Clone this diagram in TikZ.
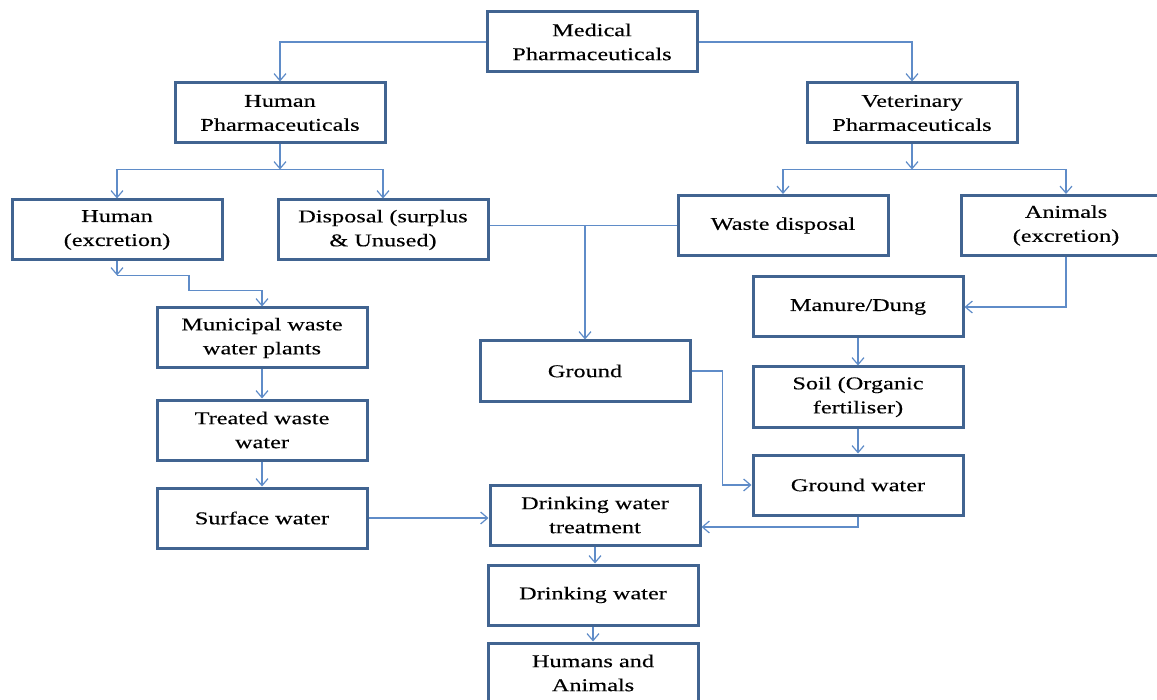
\documentclass[tikz,border=0pt]{standalone}
\usepackage{fontspec}
\setmainfont{Liberation Serif}[FakeStretch=1.35,FakeBold=0.3]
\usetikzlibrary{arrows.meta}
\definecolor{boxline}{RGB}{65,100,145}
\definecolor{arrline}{RGB}{95,140,200}

\begin{document}
\begin{tikzpicture}[x=0.5pt, y=-0.5pt,
  box/.style={draw=boxline, line width=1.5pt, minimum width=105pt, minimum height=30pt,
    inner sep=1pt, align=center, font=\fontsize{9}{12}\selectfont},
  arr/.style={draw=arrline, line width=0.6pt, -{Straight Barb[length=3.5pt,width=6pt]}},
  ln/.style={draw=arrline, line width=0.6pt}]
\useasboundingbox (0,0) rectangle (1157,700);
\clip (0,0) rectangle (1157,700);
\node[box] (med) at (592,42) {Medical\\Pharmaceuticals};
\node[box] (hp) at (280,113) {Human\\Pharmaceuticals};
\node[box] (vp) at (912,113) {Veterinary\\Pharmaceuticals};
\node[box] (hx) at (117,230) {Human\\(excretion)};
\node[box] (dis) at (383,230) {Disposal (surplus\\\& Unused)};
\node[box] (wd) at (783,225.5) {Waste disposal};
\node[box] (ax) at (1066,225.5) {Animals\\(excretion)};
\node[box] (mun) at (262,338) {Municipal waste\\water plants};
\node[box] (gr) at (585,371) {Ground};
\node[box] (man) at (858,307) {Manure/Dung};
\node[box] (soil) at (858,397) {Soil (Organic\\fertiliser)};
\node[box] (tww) at (262,430) {Treated waste\\water};
\node[box] (gw) at (858,485) {Ground water};
\node[box] (sw) at (262,518) {Surface water};
\node[box] (dwt) at (595,515) {Drinking water\\treatment};
\node[box] (dw) at (593,595) {Drinking water};
\node[box] (ha) at (593,673) {Humans and\\Animals};
% top split
\draw[arr] (med.west) -| (hp.north);
\draw[arr] (med.east) -| (vp.north);
\draw[arr] (hp.south) -- ++(0,25) coordinate (hpj);
\draw[arr] (hpj) -| (hx.north);
\draw[arr] (hpj) -| (dis.north);
\draw[arr] (vp.south) -- ++(0,25) coordinate (vpj);
\draw[arr] (vpj) -| (wd.north);
\draw[arr] (vpj) -| (ax.north);
% disposal to ground
\draw[ln] (dis.east |- wd.west) -- (wd.west);
\draw[arr] (gr.north |- wd.west) -- (gr.north);
% human side
\draw[arr] (hx.south) -- ++(0,14) coordinate (hxj);
\draw[arr] (hxj) -- ++(72,0) -- ++(0,15) -| (mun.north);
\draw[arr] (mun.south) -- (tww.north);
\draw[arr] (tww.south) -- (sw.north);
\draw[arr] (sw.east) -- (sw.east -| dwt.west);
% animal side
\draw[arr] (ax.south) |- (man.east);
\draw[arr] (man.south) -- (soil.north);
\draw[arr] (soil.south) -- (gw.north);
\draw[arr] (gr.east) -- ++(31,0) |- (gw.west);
\draw[arr] (gw.south) |- ([yshift=-6pt]dwt.east);
% drinking water
\draw[arr] (dwt.south) -- (dwt.south |- dw.north);
\draw[arr] (dw.south) -- (ha.north);
\end{tikzpicture}
\end{document}
